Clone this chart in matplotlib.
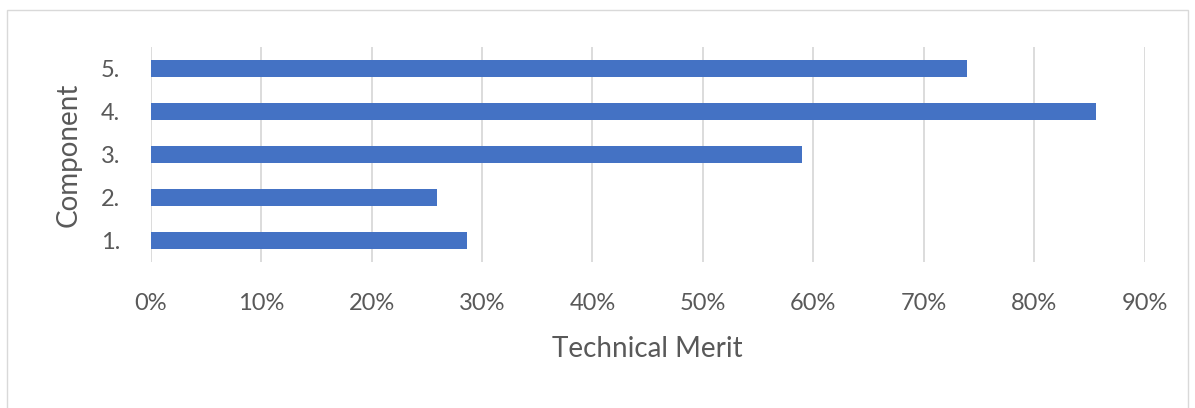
import matplotlib.pyplot as plt
from matplotlib.patches import Rectangle
from matplotlib.ticker import PercentFormatter

# values
components = ['1.', '2.', '3.', '4.', '5.']
merit = [0.286, 0.259, 0.590, 0.856, 0.739]
xticks = [0.0, 0.1, 0.2, 0.3, 0.4, 0.5, 0.6, 0.7, 0.8, 0.9]

plt.rcParams['font.family'] = ['Lato', 'DejaVu Sans']
txt = '#595959'

fig = plt.figure(figsize=(11.95, 4.08), dpi=100)
ax = fig.add_axes([150.7/1195, 1 - 262/408, (1144.7-150.7)/1195, (262-47)/408])

pos = list(range(1, len(components) + 1))
ax.barh(pos, merit, height=0.4, color='#4472C4', zorder=3)

ax.set_xlim(0, 0.9)
ax.set_ylim(0.5, 5.5)
ax.set_xticks(xticks)
ax.xaxis.set_major_formatter(PercentFormatter(1.0, decimals=0))
ax.set_yticks(pos)
ax.set_yticklabels(components)
ax.grid(axis='x', color='#d9d9d9', linewidth=1.3, zorder=0)
for s in ax.spines.values():
    s.set_visible(False)
ax.tick_params(length=0, labelsize=17, colors=txt)
ax.tick_params(axis='x', pad=22)
ax.tick_params(axis='y', pad=22)

ax.set_xlabel('Technical Merit', fontsize=20, color=txt, labelpad=16)
ax.set_ylabel('Component', fontsize=20, color=txt, labelpad=14)

# light chart border
fig.patches.append(Rectangle((7/1195, -0.01), 1181/1195, 1 - 10/408 + 0.01,
                             transform=fig.transFigure, fill=False,
                             edgecolor='#d9d9d9', linewidth=1))

fig.savefig('out.png', dpi=100)
